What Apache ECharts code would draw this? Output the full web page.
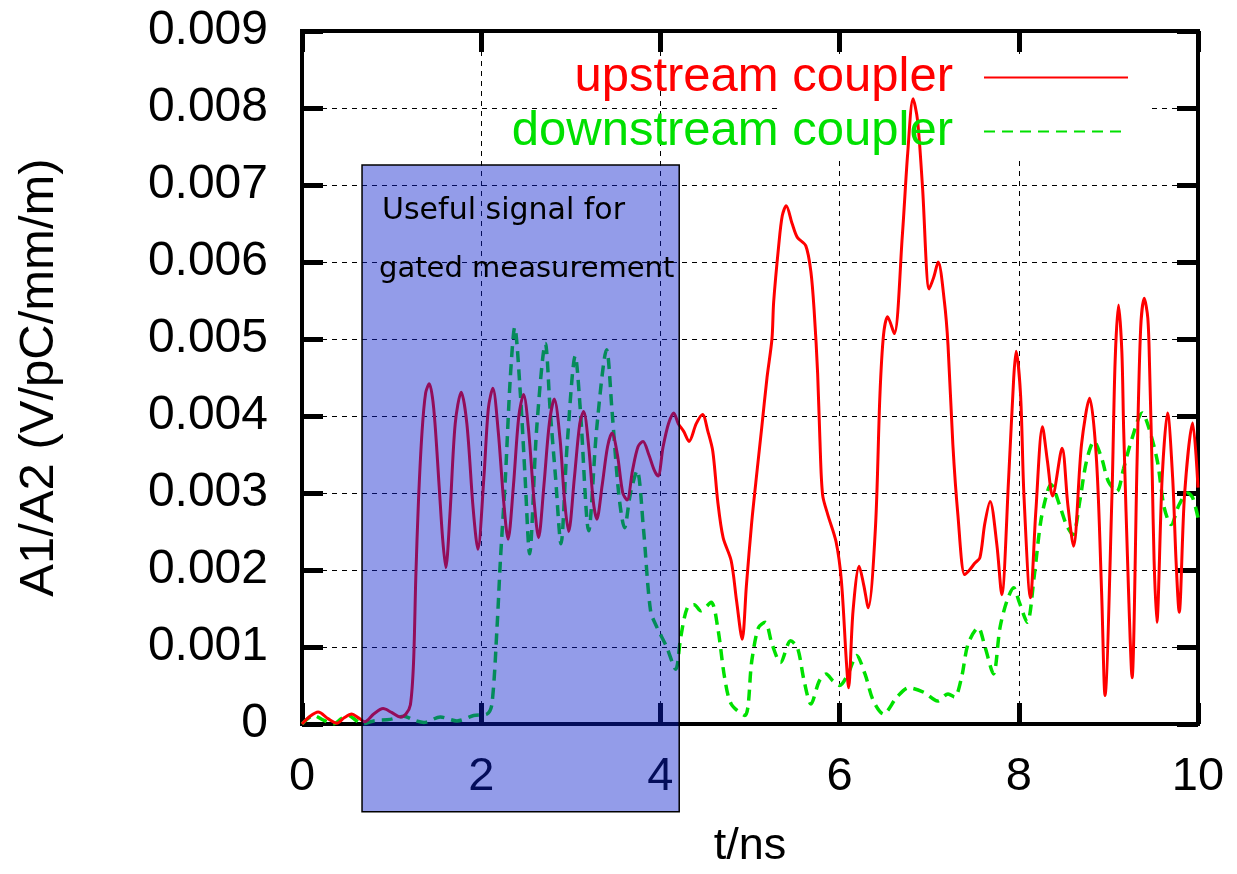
<!DOCTYPE html>
<html>
<head>
<meta charset="utf-8">
<script src="https://cdn.jsdelivr.net/npm/echarts@6/dist/echarts.min.js"></script>
<style>html,body{margin:0;padding:0;background:#fff}#c{width:1237px;height:874px}</style>
</head>
<body>
<div id="c"></div>
<script>
// ---- data ----
const xTickLabels = ['0', '2', '4', '6', '8', '10'];
const yTickLabels = ['0', '0.001', '0.002', '0.003', '0.004', '0.005', '0.006', '0.007', '0.008', '0.009'];
const seriesNames = ['upstream coupler', 'downstream coupler'];

const upstream = [[0,0],[0.09,0.0001],[0.18,0.000155],[0.29,0.00007],[0.39,0.00001],[0.47,0.00008],[0.555,0.00013],[0.63,0.00008],[0.70,0.00003],[0.80,0.00013],[0.905,0.0002],[1.0,0.00015],[1.095,0.00009],[1.16,0.00013],[1.21,0.00025],[1.245,0.0008],[1.27,0.0019],[1.30,0.0029],[1.34,0.0038],[1.38,0.0043],[1.42,0.00442],[1.47,0.0041],[1.53,0.0031],[1.57,0.0024],[1.605,0.00203],[1.65,0.0027],[1.71,0.0039],[1.777,0.00431],[1.84,0.0039],[1.91,0.0028],[1.963,0.00227],[2.03,0.0032],[2.08,0.0041],[2.13,0.00436],[2.19,0.0038],[2.25,0.0029],[2.30,0.0024],[2.36,0.0031],[2.42,0.0040],[2.473,0.00428],[2.53,0.0038],[2.59,0.0029],[2.64,0.00242],[2.70,0.0031],[2.76,0.0039],[2.816,0.00422],[2.88,0.0037],[2.93,0.0029],[2.976,0.0025],[3.04,0.0032],[3.10,0.0039],[3.143,0.00406],[3.20,0.0036],[3.25,0.0029],[3.29,0.00266],[3.35,0.0031],[3.41,0.0036],[3.46,0.00378],[3.52,0.0035],[3.58,0.0030],[3.628,0.00291],[3.69,0.0033],[3.75,0.0036],[3.806,0.00367],[3.87,0.0035],[3.93,0.0033],[3.974,0.00322],[4.03,0.0036],[4.09,0.0039],[4.149,0.00404],[4.20,0.0039],[4.26,0.0038],[4.32,0.00367],[4.40,0.0039],[4.47,0.00402],[4.53,0.0038],[4.585,0.00354],[4.64,0.00289],[4.70,0.00242],[4.79,0.00212],[4.85,0.0016],[4.913,0.0011],[4.96,0.0018],[5.02,0.00263],[5.08,0.0033],[5.13,0.00384],[5.19,0.0045],[5.245,0.005],[5.264,0.00548],[5.32,0.00621],[5.36,0.0066],[5.404,0.00673],[5.47,0.0065],[5.528,0.00632],[5.623,0.00621],[5.68,0.00587],[5.717,0.00535],[5.755,0.00455],[5.78,0.0037],[5.81,0.00298],[5.868,0.00272],[5.96,0.00237],[6.02,0.00186],[6.075,0.00082],[6.10,0.00047],[6.15,0.00147],[6.219,0.00205],[6.27,0.0018],[6.32,0.00151],[6.40,0.00255],[6.45,0.00427],[6.49,0.00505],[6.536,0.00529],[6.61,0.00507],[6.70,0.00634],[6.76,0.00741],[6.82,0.00812],[6.87,0.00784],[6.925,0.00698],[7.0,0.00565],[7.05,0.0058],[7.10,0.006],[7.17,0.00548],[7.21,0.00492],[7.264,0.00363],[7.32,0.00272],[7.396,0.00194],[7.45,0.002],[7.51,0.00209],[7.566,0.00216],[7.62,0.0026],[7.68,0.00289],[7.755,0.00233],[7.81,0.00168],[7.887,0.0032],[7.943,0.00449],[7.97,0.00484],[8.02,0.00427],[8.057,0.00298],[8.13,0.00164],[8.19,0.00276],[8.264,0.00386],[8.32,0.00341],[8.377,0.00296],[8.483,0.00358],[8.547,0.00285],[8.611,0.00231],[8.70,0.00363],[8.79,0.00423],[8.868,0.00341],[8.925,0.00168],[8.962,0.00037],[9.04,0.00298],[9.075,0.00471],[9.113,0.00544],[9.15,0.00484],[9.17,0.00384],[9.226,0.00168],[9.264,0.0006],[9.32,0.00341],[9.36,0.00514],[9.40,0.00553],[9.44,0.00527],[9.46,0.00462],[9.49,0.0032],[9.51,0.00212],[9.54,0.00132],[9.60,0.0032],[9.66,0.00404],[9.717,0.0032],[9.755,0.00212],[9.79,0.00145],[9.85,0.00298],[9.94,0.00391],[10.0,0.00307]];

const downstream = [[0,0],[0.13,0.00011],[0.24,0.00005],[0.35,0],[0.44,0.00007],[0.52,0.00011],[0.60,0.00005],[0.67,0],[0.8,0.00004],[0.986,0.00006],[1.135,0.0001],[1.25,0.00005],[1.36,0.00002],[1.544,0.00009],[1.73,0.00004],[1.916,0.00011],[2.065,0.00013],[2.12,0.00026],[2.177,0.00126],[2.214,0.00212],[2.27,0.0032],[2.325,0.0045],[2.374,0.00515],[2.437,0.00429],[2.49,0.0032],[2.54,0.00221],[2.62,0.00385],[2.716,0.00494],[2.77,0.00407],[2.83,0.0032],[2.89,0.00234],[2.96,0.00364],[3.05,0.00478],[3.107,0.00407],[3.2,0.00251],[3.29,0.00385],[3.40,0.00486],[3.46,0.00407],[3.535,0.00299],[3.60,0.00255],[3.665,0.00299],[3.74,0.00329],[3.81,0.00255],[3.89,0.00147],[3.96,0.00126],[4.07,0.001],[4.17,0.00071],[4.226,0.00112],[4.30,0.00151],[4.377,0.00155],[4.45,0.00147],[4.566,0.00158],[4.64,0.00125],[4.717,0.0006],[4.79,0.00026],[4.943,0.00011],[5.02,0.00082],[5.094,0.00125],[5.17,0.00132],[5.245,0.00104],[5.34,0.0008],[5.453,0.00108],[5.53,0.00099],[5.604,0.00056],[5.68,0.00026],[5.774,0.00056],[5.85,0.00065],[5.925,0.00056],[6.0,0.0005],[6.094,0.00065],[6.19,0.00089],[6.283,0.00065],[6.377,0.0003],[6.49,0.00013],[6.64,0.00035],[6.774,0.00047],[6.943,0.00041],[7.094,0.0003],[7.21,0.00039],[7.283,0.00035],[7.36,0.0006],[7.434,0.00104],[7.547,0.00125],[7.623,0.001],[7.717,0.00065],[7.79,0.00125],[7.868,0.0016],[7.943,0.00177],[8.0,0.0016],[8.094,0.00132],[8.17,0.0019],[8.245,0.00263],[8.32,0.00302],[8.358,0.00311],[8.453,0.00285],[8.53,0.00259],[8.604,0.00246],[8.68,0.00289],[8.755,0.00341],[8.84,0.00367],[8.925,0.00345],[9.0,0.00315],[9.094,0.00302],[9.17,0.00332],[9.264,0.00371],[9.377,0.00404],[9.453,0.00384],[9.547,0.00341],[9.623,0.00281],[9.70,0.00259],[9.79,0.00285],[9.887,0.003],[9.94,0.00294],[10.0,0.00268]];

// gate box: [tStart, vTop, tEnd, vBottom]
const gateBox = [[0.67, 0.00726, 4.21, -0.00114]];
const gateText = ['Useful signal for', 'gated measurement'];

// ---- chart ----
const chart = echarts.init(document.getElementById('c'), null, {renderer: 'canvas'});
const FONT = '"Liberation Sans", Arial, Helvetica, sans-serif';

const baseAxisX = {
  type: 'value', min: 0, max: 10, interval: 2,
  axisLine: {show: true, onZero: false, lineStyle: {color: '#000', width: 4}},
  axisTick: {show: true, inside: true, length: 21, lineStyle: {color: '#000', width: 5}}
};
const baseAxisY = {
  type: 'value', min: 0, max: 0.009, interval: 0.001,
  axisLine: {show: true, onZero: false, lineStyle: {color: '#000', width: 4}},
  axisTick: {show: true, inside: true, length: 21, lineStyle: {color: '#000', width: 5}}
};

chart.setOption({
  backgroundColor: '#fff',
  animation: false,
  grid: {left: 302, right: 39, top: 31, bottom: 147, show: true, borderColor: '#000', borderWidth: 4, backgroundColor: 'transparent'},
  graphic: [
    // white backing box behind the legend keys (as in the original plot)
    {type: 'rect', z: 1, silent: true, shape: {x: 778, y: 54, width: 374, height: 106}, style: {fill: '#fff'}}
  ],
  legend: {
    orient: 'vertical', right: 103, top: 48, align: 'right',
    itemWidth: 144, itemHeight: 46, itemGap: 5,
    itemStyle: {opacity: 0},
    data: [
      {name: seriesNames[0], textStyle: {color: '#ff0000'}},
      {name: seriesNames[1], textStyle: {color: '#00e000'}}
    ],
    textStyle: {fontFamily: FONT, fontSize: 49, lineHeight: 46, padding: [0, 26, 0, 0]}
  },
  xAxis: [
    Object.assign({}, baseAxisX, {
      position: 'bottom',
      name: 't/ns', nameLocation: 'middle', nameGap: 100,
      nameTextStyle: {fontFamily: FONT, fontSize: 45, color: '#000'},
      axisLabel: {margin: 30, fontFamily: FONT, fontSize: 47, color: '#000',
        formatter: (v) => xTickLabels[Math.round(v / 2)]},
      splitLine: {show: true, lineStyle: {color: '#000', width: 1, type: [5, 5]}}
    }),
    Object.assign({}, baseAxisX, {
      position: 'top', axisLabel: {show: false}, splitLine: {show: false}
    })
  ],
  yAxis: [
    Object.assign({}, baseAxisY, {
      position: 'left',
      name: 'A1/A2 (V/pC/mm/m)', nameLocation: 'middle', nameGap: 238,
      nameTextStyle: {fontFamily: FONT, fontSize: 49, color: '#000'},
      axisLabel: {margin: 34, fontFamily: FONT, fontSize: 48, color: '#000',
        formatter: (v) => yTickLabels[Math.round(v / 0.001)]},
      splitLine: {show: true, lineStyle: {color: '#000', width: 1, type: [5, 5]}}
    }),
    Object.assign({}, baseAxisY, {
      position: 'right', axisLabel: {show: false}, splitLine: {show: false}
    })
  ],
  series: [
    {
      name: seriesNames[0], type: 'line', data: upstream, xAxisIndex: 0, yAxisIndex: 0,
      symbol: 'none', smooth: 0.3, z: 3,
      lineStyle: {color: '#ff0000', width: 3}, itemStyle: {color: '#ff0000'}
    },
    {
      name: seriesNames[1], type: 'line', data: downstream, xAxisIndex: 0, yAxisIndex: 0,
      symbol: 'none', smooth: 0.3, z: 2,
      lineStyle: {color: '#00e000', width: 3.5, type: [11, 7]}, itemStyle: {color: '#00e000'}
    },
    {
      type: 'custom', name: 'gate', data: gateBox, xAxisIndex: 0, yAxisIndex: 0,
      clip: false, z: 20, silent: true,
      encode: {x: [0, 2], y: [1, 3]},
      renderItem: function (params, api) {
        const p0 = api.coord([api.value(0), api.value(1)]);
        const p1 = api.coord([api.value(2), api.value(3)]);
        return {
          type: 'group',
          children: [
            {
              type: 'rect',
              shape: {x: p0[0], y: p0[1], width: p1[0] - p0[0], height: p1[1] - p0[1]},
              style: {fill: 'rgba(10,30,205,0.44)', stroke: '#000', lineWidth: 1.5}
            },
            {
              type: 'text', x: p0[0] + 20, y: p0[1] + 46,
              style: {text: gateText[0], fill: '#000', font: '30px "DejaVu Sans", sans-serif', verticalAlign: 'middle'}
            },
            {
              type: 'text', x: p0[0] + 17, y: p0[1] + 104,
              style: {text: gateText[1], fill: '#000', font: '29px "DejaVu Sans", sans-serif', verticalAlign: 'middle'}
            }
          ]
        };
      }
    }
  ]
});
</script>
</body>
</html>
